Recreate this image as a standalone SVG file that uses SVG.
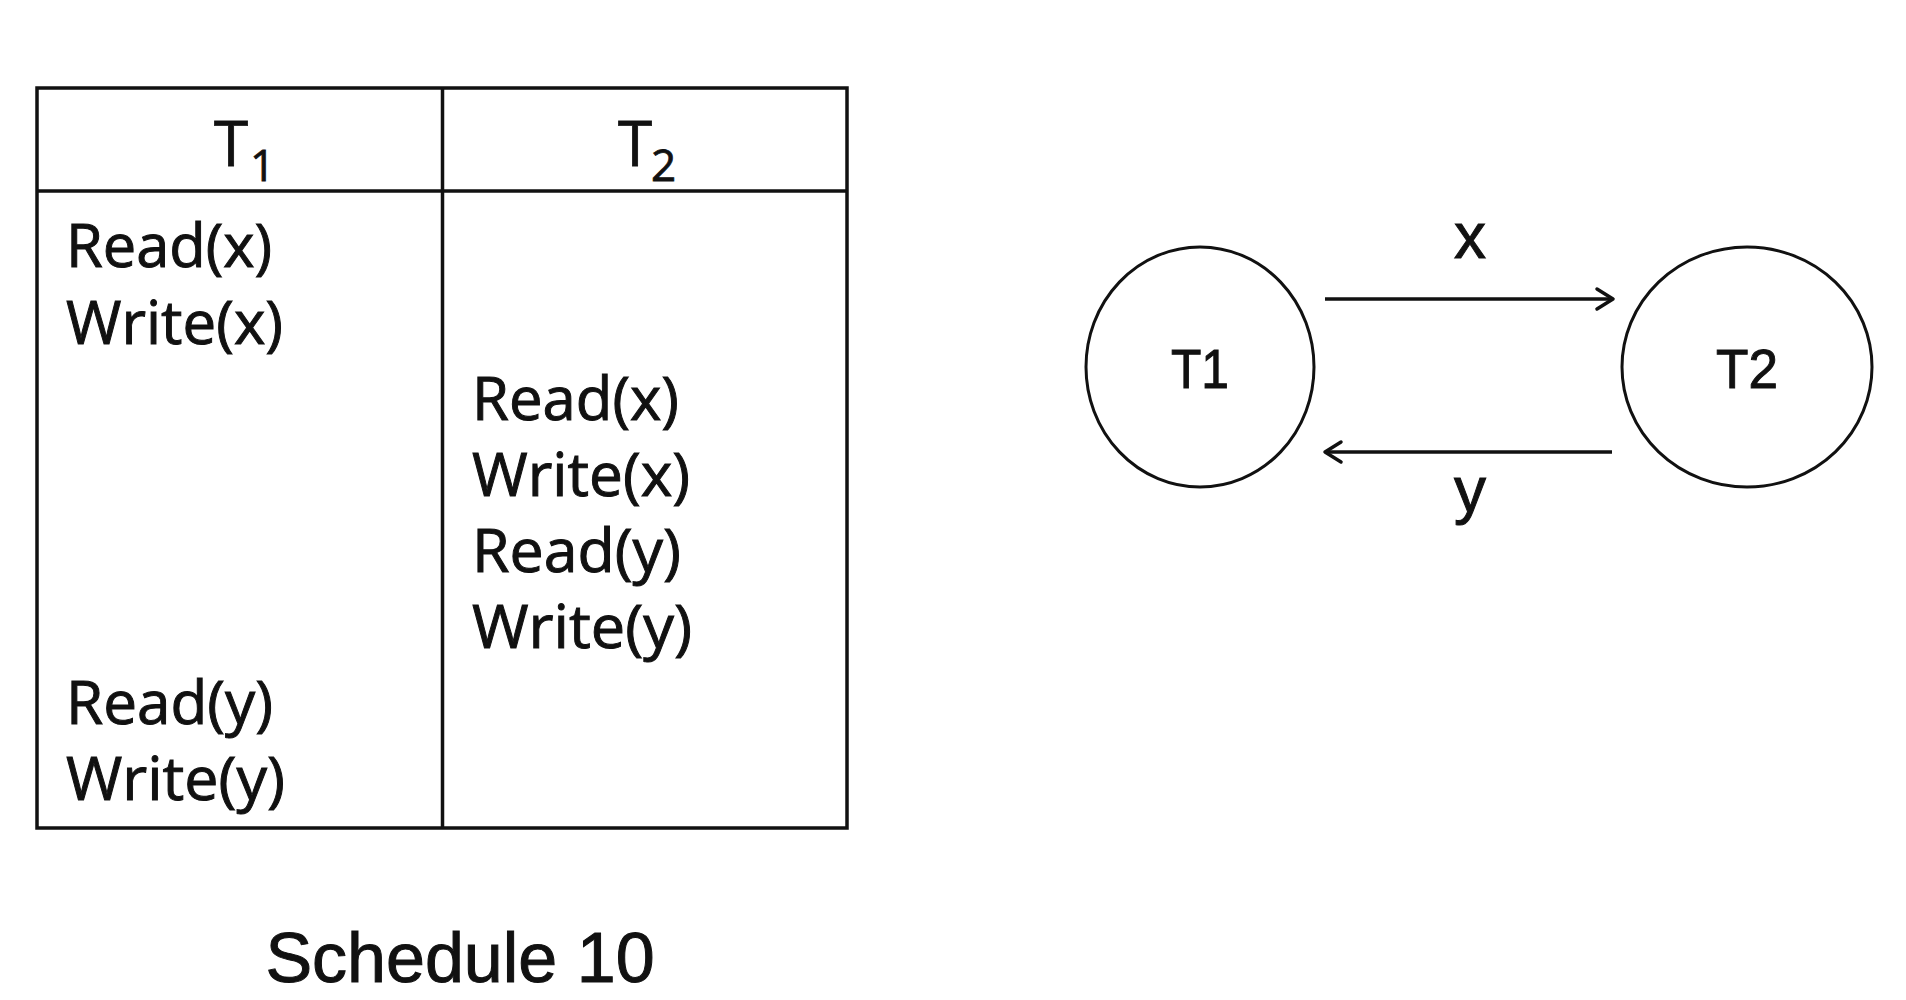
<svg xmlns="http://www.w3.org/2000/svg" width="1906" height="1000" viewBox="0 0 1906 1000">
<defs>
<style>
.tb{font-family:"Open Sans","Noto Sans",sans-serif;font-size:61px;fill:#111;stroke:#111;stroke-width:1}
.hd{font-family:"Open Sans","Noto Sans",sans-serif;font-size:62px;fill:#111;stroke:#111;stroke-width:0.8}
.sb{font-family:"Open Sans","Noto Sans",sans-serif;font-size:44px;fill:#111;stroke:#111;stroke-width:0.8}
.ar{font-family:"Liberation Sans",Arial,sans-serif;fill:#111;stroke:#111;stroke-width:1}
.ln{stroke:#111;stroke-width:3.5;fill:none}
.nd{stroke:#111;stroke-width:3;fill:#fff}
</style>
<marker id="ah" viewBox="0 0 22 26" refX="19" refY="13" markerWidth="22" markerHeight="26" markerUnits="userSpaceOnUse" orient="auto">
<path d="M3,3 L19,13 L3,23" fill="none" stroke="#111" stroke-width="3.5" stroke-linecap="round" stroke-linejoin="round"/>
</marker>
</defs>
<rect width="1906" height="1000" fill="#fff"/>
<g id="table">
<rect x="37" y="88" width="810" height="740" class="ln"/>
<line x1="37" y1="191" x2="847" y2="191" class="ln"/>
<line x1="442.5" y1="88" x2="442.5" y2="828" class="ln"/>
<text x="214" y="166" class="hd">T</text><text x="250" y="181" class="sb">1</text>
<text x="618" y="166" class="hd">T</text><text x="651" y="181" class="sb">2</text>
<text x="66" y="267" class="tb" textLength="206" lengthAdjust="spacingAndGlyphs">Read(x)</text>
<text x="66" y="344" class="tb" textLength="217" lengthAdjust="spacingAndGlyphs">Write(x)</text>
<text x="472" y="420" class="tb" textLength="207" lengthAdjust="spacingAndGlyphs">Read(x)</text>
<text x="472" y="496" class="tb" textLength="218" lengthAdjust="spacingAndGlyphs">Write(x)</text>
<text x="472" y="572" class="tb" textLength="209" lengthAdjust="spacingAndGlyphs">Read(y)</text>
<text x="472" y="648" class="tb" textLength="220" lengthAdjust="spacingAndGlyphs">Write(y)</text>
<text x="66" y="724" class="tb" textLength="207" lengthAdjust="spacingAndGlyphs">Read(y)</text>
<text x="66" y="800" class="tb" textLength="219" lengthAdjust="spacingAndGlyphs">Write(y)</text>
</g>
<g id="caption">
<text x="460" y="982" class="ar" font-size="70" text-anchor="middle">Schedule 10</text>
</g>
<g id="connectors">
<line x1="1325" y1="299" x2="1613" y2="299" class="ln" marker-end="url(#ah)"/>
<line x1="1612" y1="452" x2="1325" y2="452" class="ln" marker-end="url(#ah)"/>
<text x="1470" y="258" class="ar" font-size="64" text-anchor="middle">x</text>
<text x="1470" y="512" class="ar" font-size="64" text-anchor="middle">y</text>
</g>
<g id="node-T1">
<ellipse cx="1200" cy="367" rx="114" ry="120" class="nd"/>
<text x="1200" y="388" class="ar" font-size="56" text-anchor="middle" textLength="58" lengthAdjust="spacingAndGlyphs">T1</text>
</g>
<g id="node-T2">
<ellipse cx="1747" cy="367" rx="125" ry="120" class="nd"/>
<text x="1747" y="388" class="ar" font-size="56" text-anchor="middle" textLength="62" lengthAdjust="spacingAndGlyphs">T2</text>
</g>
</svg>
